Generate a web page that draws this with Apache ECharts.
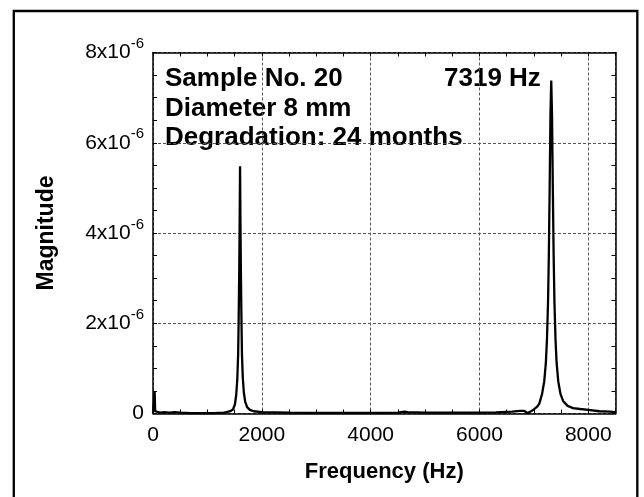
<!DOCTYPE html>
<html>
<head>
<meta charset="utf-8">
<script src="https://cdn.jsdelivr.net/npm/echarts@6/dist/echarts.min.js"></script>
<style>
  html, body { margin: 0; padding: 0; background: #fff; }
  #chart { width: 644px; height: 497px; }
</style>
</head>
<body>
<div id="chart"></div>
<script>
// frequency (Hz) of each sample
var freqHz = [
  0, 20, 30, 40, 60, 100, 150, 200, 300, 400, 500, 700, 900, 1100, 1300,
  1350, 1420, 1470, 1505, 1530, 1550, 1565, 1575, 1584, 1592, 1600,
  1608, 1616, 1625, 1635, 1650, 1670, 1695, 1730, 1780, 1850, 2000,
  2500, 3000, 3500, 4000, 4500, 4620, 4650, 4680, 5000, 5500, 6000,
  6300, 6600, 6750, 6820, 6880, 6920, 7000, 7060, 7100, 7150, 7190,
  7220, 7240, 7260, 7275, 7290, 7305, 7319, 7333, 7348, 7363, 7378,
  7398, 7418, 7448, 7490, 7540, 7620, 7720, 7850, 8000, 8200, 8400, 8500
];
// magnitude, in units of 1e-6
var magnitude = [
  0.02, 0.05, 0.48, 0.05, 0.02, 0.03, 0.02, 0.03, 0.02, 0.03, 0.02, 0.01, 0.01, 0.01, 0.02,
  0.03, 0.05, 0.09, 0.20, 0.42, 0.78, 1.31, 2.14, 3.05, 4.13, 5.48,
  4.13, 3.05, 2.14, 1.31, 0.80, 0.46, 0.26, 0.14, 0.08, 0.05, 0.03,
  0.02, 0.015, 0.015, 0.015, 0.02, 0.04, 0.05, 0.03, 0.02, 0.02, 0.02,
  0.025, 0.04, 0.06, 0.06, 0.01, 0.03, 0.09, 0.15, 0.22, 0.43, 0.71,
  1.12, 1.63, 2.46, 3.52, 5.00, 6.64, 7.38, 6.64, 5.00, 3.52, 2.46,
  1.63, 1.12, 0.71, 0.43, 0.27, 0.17, 0.12, 0.10, 0.08, 0.05, 0.04, 0.03
];
var xTicks = [0, 2000, 4000, 6000, 8000];
var yTicks = [0, 2, 4, 6, 8];
var notes = ["Sample No. 20", "Diameter 8 mm", "Degradation: 24 months"];
var peakNote = "7319 Hz";

var FONT = "'Liberation Sans', Arial, sans-serif";

var points = [];
for (var i = 0; i < freqHz.length; i++) {
  points.push([freqHz[i], magnitude[i]]);
}

var chart = echarts.init(document.getElementById('chart'));

var fineX = function(pos){
  return {
    type: 'value', position: pos, min: 0, max: 8500, interval: 500,
    axisLine: { show: true, onZero: false, lineStyle: { color: '#000', width: 1.5 } },
    axisTick: { show: true, inside: true, length: 4, lineStyle: { color: '#000', width: 1 } },
    axisLabel: {
      show: pos == 'bottom', margin: 11, color: '#000', fontFamily: FONT, fontSize: 21,
      formatter: function(v){ return xTicks.indexOf(v) >= 0 ? String(v) : ''; }
    },
    splitLine: { show: false }
  };
};
var fineY = function(pos){
  return {
    type: 'value', position: pos, min: 0, max: 8, interval: 0.5,
    axisLine: { show: true, onZero: false, lineStyle: { color: '#000', width: 1.5 } },
    axisTick: { show: true, inside: true, length: 4, lineStyle: { color: '#000', width: 1 } },
    axisLabel: {
      show: pos == 'left', margin: 9, color: '#000', fontFamily: FONT, fontSize: 21,
      formatter: function(v){
        if (yTicks.indexOf(v) < 0) return '';
        if (v == 0) return '{b|0}';
        return '{b|' + v + 'x10}{s|-6}';
      },
      rich: {
        b: { fontFamily: FONT, fontSize: 21, color: '#000', lineHeight: 22 },
        s: { fontFamily: FONT, fontSize: 15, color: '#000', verticalAlign: 'top', lineHeight: 32 }
      }
    },
    splitLine: { show: false }
  };
};
var gridX = {
  type: 'value', position: 'bottom', min: 0, max: 8500, interval: 2000,
  axisLine: { show: false }, axisTick: { show: false }, axisLabel: { show: false },
  splitLine: { show: true, lineStyle: { color: '#555', width: 1, type: [3, 2] } }
};
var gridY = {
  type: 'value', position: 'left', min: 0, max: 8, interval: 2,
  axisLine: { show: false }, axisTick: { show: false }, axisLabel: { show: false },
  splitLine: { show: true, lineStyle: { color: '#555', width: 1, type: [3, 2] } }
};

var graphics = [{
  type: 'rect', silent: true,
  shape: { x: 13.8, y: 11, width: 623.5, height: 500 },
  style: { fill: 'none', stroke: '#000', lineWidth: 2.3 }
}];
for (var n = 0; n < notes.length; n++) {
  graphics.push({
    type: 'text', left: 165, top: 66 + n * 29.5,
    style: { text: notes[n], fill: '#000', font: 'bold 26px ' + FONT }
  });
}
graphics.push({
  type: 'text', left: 444, top: 66,
  style: { text: peakNote, fill: '#000', font: 'bold 26px ' + FONT }
});

var option = {
  animation: false,
  backgroundColor: '#fff',
  grid: { left: 153, right: 28.5, top: 52.5, bottom: 83.5, containLabel: false },
  xAxis: [
    fineX('bottom'),
    fineX('top'),
    gridX
  ],
  yAxis: [
    fineY('left'),
    fineY('right'),
    gridY
  ],
  graphic: graphics,
  series: [{
    type: 'line',
    xAxisIndex: 0, yAxisIndex: 0,
    data: points,
    showSymbol: false,
    smooth: false,
    z: 5,
    lineStyle: { color: '#000', width: 2.3 }
  }]
};

// axis titles drawn as plain text through the axis name
option.xAxis[0].name = 'Frequency (Hz)';
option.xAxis[0].nameLocation = 'middle';
option.xAxis[0].nameGap = 47;
option.xAxis[0].nameTextStyle = { fontFamily: FONT, fontWeight: 'bold', fontSize: 22, color: '#000' };
option.yAxis[0].name = 'Magnitude';
option.yAxis[0].nameLocation = 'middle';
option.yAxis[0].nameGap = 95;
option.yAxis[0].nameTextStyle = { fontFamily: FONT, fontWeight: 'bold', fontSize: 23, color: '#000' };

chart.setOption(option);
</script>
</body>
</html>
